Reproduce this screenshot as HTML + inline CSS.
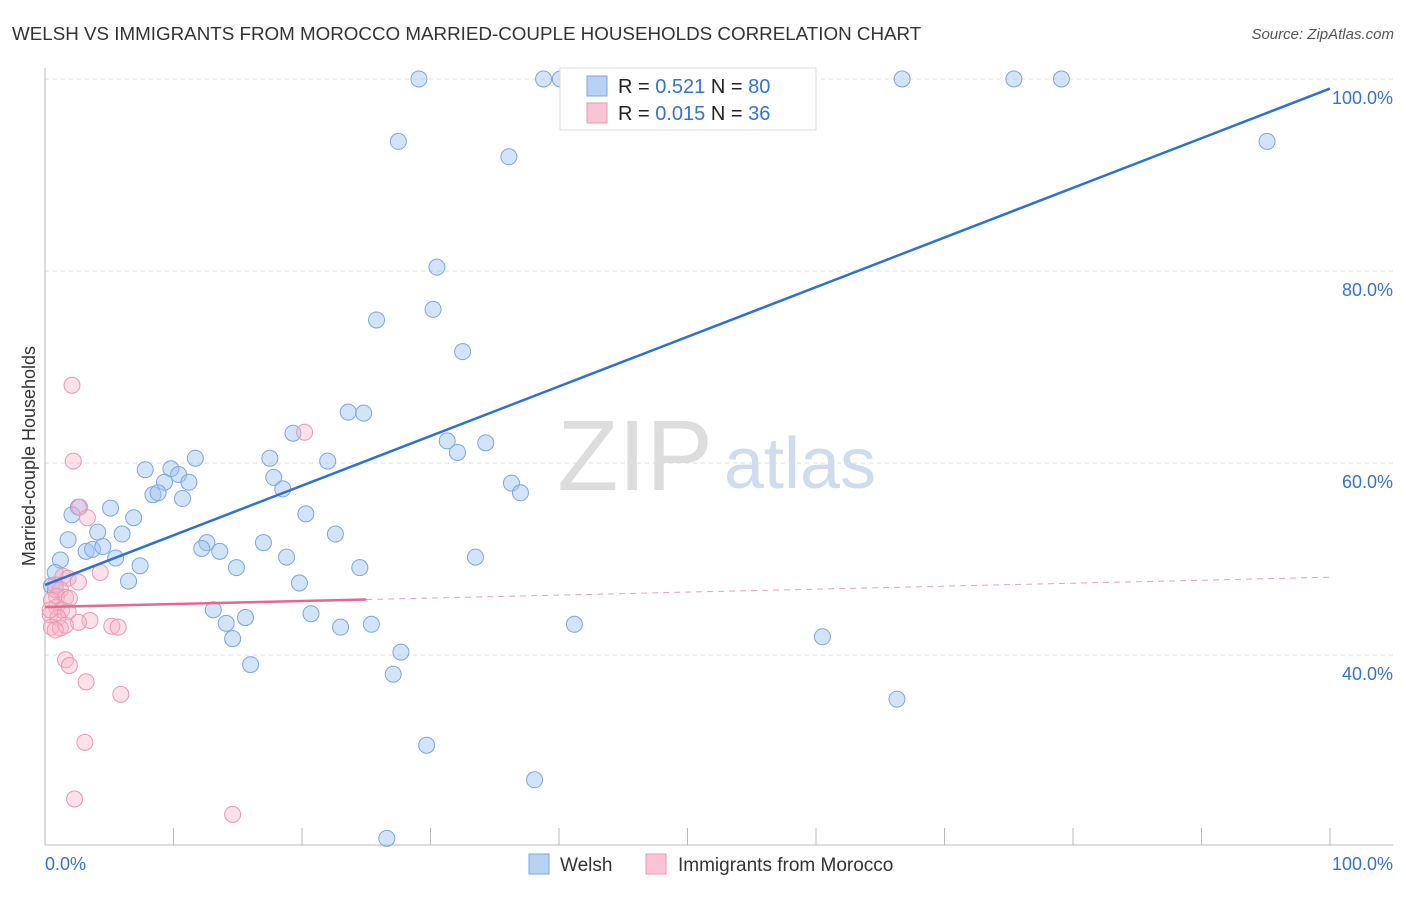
<!DOCTYPE html>
<html><head><meta charset="utf-8"><style>
body{margin:0;background:#fff;font-family:"Liberation Sans",sans-serif}
svg text{font-family:"Liberation Sans",sans-serif}
</style></head><body>
<svg id="c" width="1406" height="892">
<text x="12" y="40" font-size="18.8" fill="#333">WELSH VS IMMIGRANTS FROM MOROCCO MARRIED-COUPLE HOUSEHOLDS CORRELATION CHART</text>
<text x="1394" y="39" font-size="15" fill="#555" font-style="italic" text-anchor="end">Source: ZipAtlas.com</text>
<text x="635" y="490" font-size="100" fill="#ddd" font-family="Liberation Serif" text-anchor="middle">ZIP</text>
<text x="800" y="488" font-size="72" fill="#cfdcf0" text-anchor="middle">atlas</text>
<text x="35" y="456" font-size="18" fill="#333" text-anchor="middle" transform="rotate(-90 35 456)">Married-couple Households</text>
<g id="grid"></g><g id="pts"></g><g id="lines"></g>
<g>
<rect x="560" y="68" width="256" height="62" fill="#fff" stroke="#ddd"/>
<rect x="587" y="76" width="20" height="20" fill="#b8d2f5" stroke="#7aa6e0"/>
<rect x="587" y="103" width="20" height="20" fill="#f9c5d5" stroke="#ec96b2"/>
<text x="618" y="93" font-size="20" fill="#222">R = <tspan fill="#3572d0">0.521</tspan>   N = <tspan fill="#3572d0">80</tspan></text>
<text x="618" y="120" font-size="20" fill="#222">R = <tspan fill="#3572d0">0.015</tspan>   N =  <tspan fill="#3572d0">36</tspan></text>
</g>
<g>
<rect x="529" y="854" width="20" height="20" fill="#b8d2f5" stroke="#7aa6e0"/>
<text x="560" y="871" font-size="19" fill="#333">Welsh</text>
<rect x="646" y="854" width="20" height="20" fill="#f9c5d5" stroke="#ec96b2"/>
<text x="678" y="871" font-size="19" fill="#333">Immigrants from Morocco</text>
</g>
</svg>
<script>
const yTicks=[40,60,80,100];
const yTickLabels=["40.0%","60.0%","80.0%","100.0%"];
const xEndLabels=["0.0%","100.0%"];
const welshX=[29.1,38.8,40.1,47.6,54.2,66.7,75.4,79.1,27.5,36.1,95.1,30.5,25.8,30.2,32.5,23.6,24.8,19.3,31.3,32.1,34.3,17.5,22.0,11.7,7.8,9.8,10.4,9.3,11.2,8.4,8.8,10.7,17.8,18.5,36.3,37.0,2.6,5.1,2.1,6.9,20.3,4.1,6.0,22.6,1.8,1.2,3.2,3.7,4.5,5.5,12.6,12.2,13.6,17.0,18.8,33.5,7.4,14.9,24.5,0.8,6.5,19.8,0.5,13.1,20.7,14.1,15.6,23.0,25.4,41.2,14.6,60.5,27.7,16.0,27.1,66.3,29.7,38.1,26.6,0.8];
const welshY=[100,100,100,100,100,100,100,100,93.5,91.9,93.5,80.4,74.9,76.0,71.6,65.3,65.2,63.1,62.3,61.1,62.1,60.5,60.2,60.5,59.3,59.4,58.8,58.0,58.0,56.7,56.9,56.3,58.5,57.3,57.9,56.9,55.4,55.3,54.6,54.3,54.7,52.8,52.6,52.6,52.0,49.9,50.8,51.0,51.3,50.1,51.7,51.1,50.8,51.7,50.2,50.2,49.3,49.1,49.1,48.6,47.7,47.5,47.2,44.7,44.3,43.3,43.9,42.9,43.2,43.2,41.7,41.9,40.3,39.0,38.0,35.4,30.6,27.0,20.9,46.8];
const morX=[2.1,2.2,20.2,2.7,3.3,4.3,1.4,1.8,2.6,0.8,1.2,0.9,1.6,1.9,0.5,0.9,1.3,1.8,0.4,1.0,3.5,2.6,5.2,5.7,0.5,1.2,1.6,0.8,1.6,1.9,3.2,5.9,3.1,2.3,14.6,0.4];
const morY=[68.1,60.2,63.2,55.4,54.3,48.6,48.2,48.0,47.6,47.3,46.8,46.1,46.0,45.9,45.7,45.0,44.7,44.5,44.2,43.9,43.6,43.4,43.0,42.9,42.9,42.8,43.1,42.6,39.5,38.9,37.2,35.9,30.9,25.0,23.4,44.7];
const welshTrend=[47.3,99.0];
const morTrend=[45.0,48.1];
const morSolidEnd=25;
const NS="http://www.w3.org/2000/svg";
const X=v=>45+v*12.85, Y=v=>79+(100-v)*9.6;
function mk(t,a,p){const e=document.createElementNS(NS,t);for(const k in a)e.setAttribute(k,a[k]);p.appendChild(e);return e;}
const g=document.getElementById('grid');
yTicks.forEach((t,i)=>{
 const l=mk('line',{x1:45,x2:1393,y1:Y(t),y2:Y(t),stroke:'#ddd','stroke-dasharray':'4,4'},g);
 
 
 const tx=mk('text',{x:1393,y:Y(t)+25,'font-size':18,fill:'#3572d0','text-anchor':'end'},g);
 tx.textContent=yTickLabels[i];
 
 
});
const ax=mk('line',{x1:45,x2:1393,y1:845,y2:845,stroke:'#bbb'},g);


const ay=mk('line',{x1:45,x2:45,y1:68,y2:845,stroke:'#bbb'},g);


for(let k=1;k<=10;k++){const t=mk('line',{x1:X(k*10),x2:X(k*10),y1:828,y2:845,stroke:'#bbb'},g);
 
 }
[[0,'start',45],[100,'end',1393]].forEach((d,i)=>{const t=mk('text',{x:d[2],y:870,'font-size':18,fill:'#3572d0','text-anchor':d[1]},g);t.textContent=xEndLabels[i];
 
 });
const p=document.getElementById('pts');
welshX.forEach((v,i)=>{const c=mk('circle',{cx:X(v),cy:Y(welshY[i]),r:8,fill:'rgba(160,196,240,0.45)',stroke:'#7aa6e0','stroke-width':1},p);
 
 });
morX.forEach((v,i)=>{const c=mk('circle',{cx:X(v),cy:Y(morY[i]),r:8,fill:'rgba(248,180,200,0.4)',stroke:'#ec96b2','stroke-width':1},p);
 
 });
const L=document.getElementById('lines');
const b=mk('line',{x1:X(0),y1:Y(welshTrend[0]),x2:X(100),y2:Y(welshTrend[1]),stroke:'#2f6fd6','stroke-width':2.5},L);


const pm=v=>morTrend[0]+(morTrend[1]-morTrend[0])*v/100;
const s=mk('line',{x1:X(0),y1:Y(pm(0)),x2:X(morSolidEnd),y2:Y(pm(morSolidEnd)),stroke:'#e8668f','stroke-width':2.5},L);


const d=mk('line',{x1:X(morSolidEnd),y1:Y(pm(morSolidEnd)),x2:X(100),y2:Y(pm(100)),stroke:'#eaa0b8','stroke-width':1,'stroke-dasharray':'6,5'},L);


</script>
</body></html>
